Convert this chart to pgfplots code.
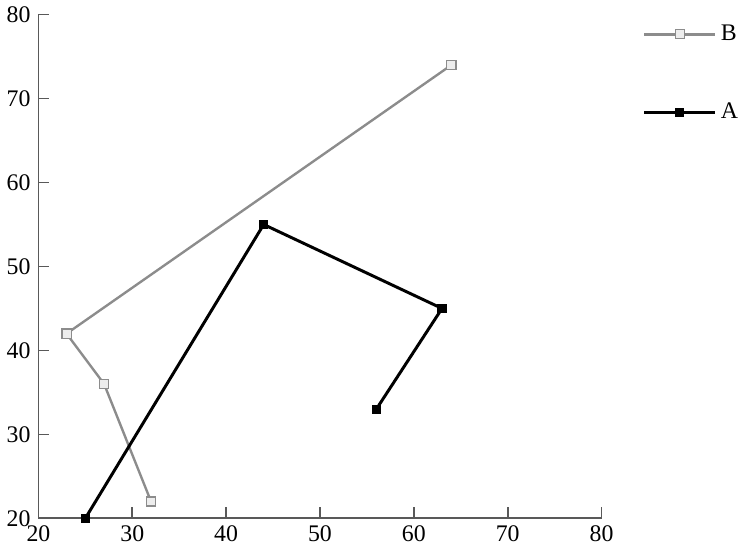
\documentclass[border=0pt]{standalone}
\usepackage{pgfplots}
\pgfplotsset{compat=1.18}
\usepackage{fontspec}
\setmainfont{Liberation Serif}
\definecolor{lineB}{rgb}{0.55,0.55,0.55}
\definecolor{axgray}{rgb}{0.35,0.35,0.35}
\begin{document}
\begin{tikzpicture}
\begin{axis}[
  scale only axis,
  width=284pt, height=254pt,
  xmin=20, xmax=80, ymin=20, ymax=80,
  xtick={20,30,...,80}, ytick={20,30,...,80},
  axis lines*=left,
  axis line style={axgray, line width=0.9pt},
  tick style={axgray, line width=0.8pt},
  tick align=inside,
  major tick length=5.5pt,
  /pgf/number format/assume math mode=true,
  tick label style={font=\fontsize{12}{14}\selectfont},
  yticklabel style={xshift=-0.5pt},
  legend cell align=left,
  legend style={draw=none, fill=none, at={(1.072,0.988)}, anchor=north west,
    font=\fontsize{12}{14}\selectfont, row sep=26pt, inner sep=0pt},
  legend image code/.code={
    \draw[mark repeat=2,mark phase=2] plot coordinates {(0pt,0pt) (18pt,0pt) (36pt,0pt)};},
  clip=false,
]
\addplot[lineB, line width=1.2pt, mark=square*, mark size=2.3pt,
  mark options={fill=black!7, draw=lineB, line width=0.6pt}]
  coordinates {(32,22) (27,36) (23,42) (64,74)};
\addlegendentry{B}
\addplot[black, line width=1.5pt, mark=square*, mark size=2.1pt,
  mark options={fill=black, draw=black, line width=0.4pt}]
  coordinates {(25,20) (44,55) (63,45) (56,33)};
\addlegendentry{A}
\end{axis}
\end{tikzpicture}
\end{document}
